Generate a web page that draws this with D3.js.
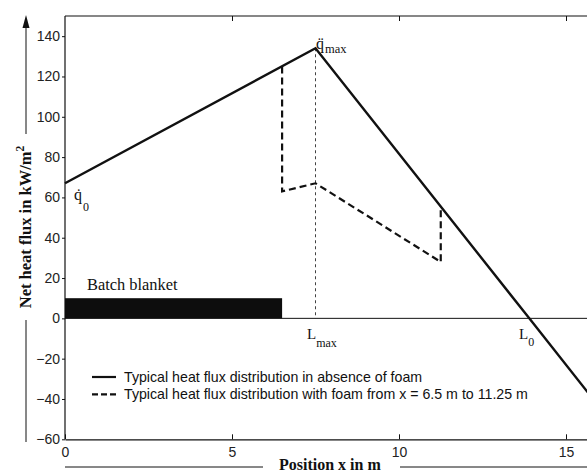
<!DOCTYPE html>
<html>
<head>
<meta charset="utf-8">
<script src="https://cdn.jsdelivr.net/npm/d3@7"></script>
<style>
  html, body { margin: 0; padding: 0; background: #fff; }
  svg { display: block; }
  .tick text { font-family: "Liberation Sans", Arial, sans-serif; font-size: 14px; fill: #222; }
  .serif { font-family: "Liberation Serif", "Times New Roman", serif; fill: #111; }
  .sans { font-family: "Liberation Sans", Arial, sans-serif; fill: #111; }
</style>
</head>
<body>
<svg id="chart" width="587" height="472"></svg>
<script>
// heat flux without foam (x in m, q in kW/m2)
const noFoamX = [0, 7.5, 13.9, 16]
const noFoamQ = [67, 134, 0, -44]
// heat flux with foam from 6.5 m to 11.25 m
const foamX = [6.5, 6.5, 7.5, 11.25, 11.25]
const foamQ = [125, 63, 67, 28, 55.5]
// batch blanket block
const blanketX = [0, 6.5]
const blanketQ = [0, 10]
const lMax = 7.5
const xTicks = [0, 5, 10, 15]
const yTicks = [-60, -40, -20, 0, 20, 40, 60, 80, 100, 120, 140]
const legendLabels = [
  "Typical heat flux distribution in absence of foam",
  "Typical heat flux distribution with foam from x = 6.5 m to 11.25 m",
]

const svg = d3.select("#chart")
const plotLeft = 65, plotTop = 16, plotBottom = 439.3
const x = d3.scaleLinear().domain([0, 16]).range([plotLeft, plotLeft + 16 * 33.4])
const y = d3.scaleLinear().domain([-60, 150]).range([plotBottom, plotTop])
const plotRight = x(16)

const ink = "#111"

// frame lines
svg.append("line").attr("x1", plotLeft).attr("x2", plotRight).attr("y1", plotTop).attr("y2", plotTop)
  .attr("stroke", ink).attr("stroke-width", 1.2)

const xAxis = svg.append("g").attr("transform", `translate(0,${plotBottom})`)
  .call(d3.axisBottom(x).tickValues(xTicks).tickSizeInner(-5).tickSizeOuter(0).tickPadding(8))
xAxis.select(".domain").attr("stroke", ink).attr("stroke-width", 1.2)
xAxis.selectAll(".tick line").attr("stroke", ink)

const topAxis = svg.append("g").attr("transform", `translate(0,${plotTop})`)
  .call(d3.axisTop(x).tickValues(xTicks.slice(1)).tickSizeInner(-5).tickSizeOuter(0).tickFormat(""))
topAxis.select(".domain").remove()
topAxis.selectAll(".tick line").attr("stroke", ink)

const yAxis = svg.append("g").attr("transform", `translate(${plotLeft},0)`)
  .call(d3.axisLeft(y).tickValues(yTicks).tickSizeInner(3).tickSizeOuter(0).tickPadding(2))
yAxis.select(".domain").attr("stroke", ink).attr("stroke-width", 1.2)
  .attr("d", `M0,${plotTop}V${plotBottom}`)
yAxis.selectAll(".tick line").attr("stroke", ink)

// zero line
svg.append("line").attr("x1", plotLeft).attr("x2", plotRight).attr("y1", y(0)).attr("y2", y(0))
  .attr("stroke", ink).attr("stroke-width", 1)

// batch blanket
svg.append("rect")
  .attr("x", x(blanketX[0])).attr("y", y(blanketQ[1]))
  .attr("width", x(blanketX[1]) - x(blanketX[0]))
  .attr("height", y(blanketQ[0]) - y(blanketQ[1]))
  .attr("fill", "#0d0d0d")
svg.append("text").attr("class", "serif").attr("x", 87).attr("y", y(blanketQ[1]) - 8)
  .attr("font-size", 16.4).text("Batch blanket")

// L_max guide
svg.append("line").attr("x1", x(lMax)).attr("x2", x(lMax)).attr("y1", y(134)).attr("y2", y(0))
  .attr("stroke", ink).attr("stroke-width", 0.8).attr("stroke-dasharray", "3,3")

const line = d3.line().x((d) => x(d[0])).y((d) => y(d[1]))
svg.append("path").datum(d3.zip(noFoamX, noFoamQ)).attr("d", line)
  .attr("fill", "none").attr("stroke", ink).attr("stroke-width", 2.4)
svg.append("path").datum(d3.zip(foamX, foamQ)).attr("d", line)
  .attr("fill", "none").attr("stroke", ink).attr("stroke-width", 2.2).attr("stroke-dasharray", "7,4")

// annotations: q0 and qmax (dot / double mark as combining accents)
const note = (tx, ty, size, str) =>
  svg.append("text").attr("class", "serif").attr("x", tx).attr("y", ty).attr("font-size", size).text(str)

note(74, 200, 16, "q\u0307")
note(83, 211, 12, "0")

note(316, 49, 16, "q\u0308")
note(325, 53, 12.5, "max")

const lm = svg.append("text").attr("class", "serif").attr("x", 307).attr("y", 339).attr("font-size", 15)
lm.append("tspan").text("L")
lm.append("tspan").attr("dy", 8).attr("font-size", 12).text("max")

const l0 = svg.append("text").attr("class", "serif").attr("x", 519).attr("y", 339).attr("font-size", 15)
l0.append("tspan").text("L")
l0.append("tspan").attr("dy", 7).attr("font-size", 12).text("0")

// legend
const legend = svg.append("g").attr("transform", "translate(92,377)")
legendLabels.forEach((label, i) => {
  const gy = i * 17.3
  legend.append("line").attr("x1", 0).attr("x2", 24).attr("y1", gy).attr("y2", gy)
    .attr("stroke", ink).attr("stroke-width", 2.2)
    .attr("stroke-dasharray", i === 1 ? "6,3" : null)
  legend.append("text").attr("class", "sans").attr("x", 32).attr("y", gy + 5)
    .attr("font-size", 14.2).text(label)
})

// y axis title with arrow
const ax = 26
svg.append("line").attr("x1", ax).attr("x2", ax).attr("y1", 134).attr("y2", 24)
  .attr("stroke", ink).attr("stroke-width", 1)
svg.append("path").attr("d", `M${ax},15L${ax - 3.5},28L${ax + 3.5},28Z`).attr("fill", ink)
svg.append("line").attr("x1", ax).attr("x2", ax).attr("y1", 320).attr("y2", 442)
  .attr("stroke", ink).attr("stroke-width", 1)
const yt = svg.append("text").attr("class", "serif").attr("font-weight", "bold").attr("font-size", 16.5)
  .attr("text-anchor", "middle").attr("transform", `translate(${ax + 5},227) rotate(-90)`)
yt.append("tspan").text("Net heat flux in kW/m")
yt.append("tspan").attr("dy", -7).attr("font-size", 11.5).text("2")

// x axis title with lines
svg.append("line").attr("x1", plotLeft).attr("x2", 263).attr("y1", 467).attr("y2", 467)
  .attr("stroke", ink).attr("stroke-width", 1)
svg.append("line").attr("x1", 400).attr("x2", 600).attr("y1", 467).attr("y2", 467)
  .attr("stroke", ink).attr("stroke-width", 1)
svg.append("text").attr("class", "serif").attr("font-weight", "bold").attr("font-size", 16)
  .attr("x", 279).attr("y", 470).text("Position x in m")
</script>
</body>
</html>
